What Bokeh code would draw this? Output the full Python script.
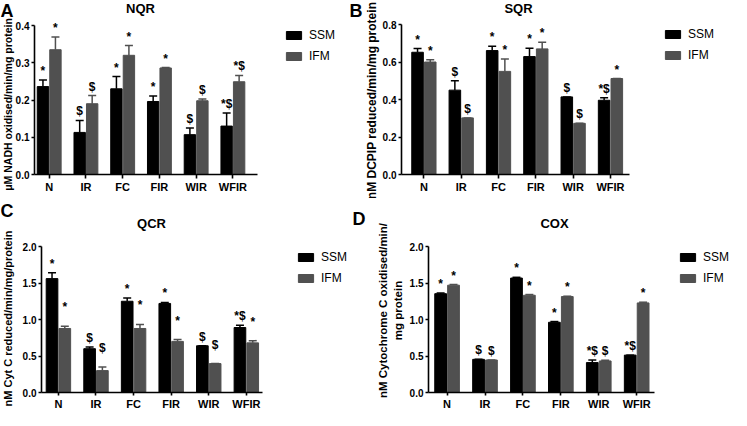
import math
from bokeh.plotting import figure
from bokeh.models import (ColumnDataSource, Range1d, FixedTicker, Legend, LegendItem,
                          Whisker, TeeHead, Label, NumeralTickFormatter)
from bokeh.transform import dodge
from bokeh.layouts import row, column
from bokeh.embed import file_html
from bokeh.resources import INLINE
from bokeh.core.properties import value

categories = ["N", "IR", "FC", "FIR", "WIR", "WFIR"]
series_names = ["SSM", "IFM"]

# Panel A - NQR
nqr_ssm = [0.236, 0.113, 0.230, 0.196, 0.107, 0.130]
nqr_ssm_err = [0.018, 0.032, 0.033, 0.015, 0.018, 0.035]
nqr_ifm = [0.335, 0.190, 0.320, 0.286, 0.198, 0.249]
nqr_ifm_err = [0.034, 0.022, 0.026, 0.001, 0.005, 0.017]
nqr_ssm_sig = ["*", "$", "*", "*", "$", "*$"]
nqr_ifm_sig = ["*", "$", "*", "*", "$", "*$"]
nqr_yticks = [0.0, 0.1, 0.2, 0.3, 0.4]

# Panel B - SQR
sqr_ssm = [0.652, 0.450, 0.661, 0.629, 0.414, 0.396]
sqr_ssm_err = [0.020, 0.050, 0.023, 0.044, 0.0, 0.014]
sqr_ifm = [0.600, 0.302, 0.550, 0.670, 0.273, 0.512]
sqr_ifm_err = [0.012, 0.0, 0.066, 0.035, 0.0, 0.0]
sqr_ssm_sig = ["*", "$", "*", "*", "$", "*$"]
sqr_ifm_sig = ["*", "$", "*", "*", "$", "*"]
sqr_yticks = [0.0, 0.2, 0.4, 0.6, 0.8]

# Panel C - QCR
qcr_ssm = [1.56, 0.60, 1.25, 1.22, 0.64, 0.89]
qcr_ssm_err = [0.08, 0.025, 0.045, 0.013, 0.0, 0.03]
qcr_ifm = [0.877, 0.30, 0.877, 0.70, 0.396, 0.68]
qcr_ifm_err = [0.03, 0.05, 0.055, 0.026, 0.0, 0.03]
qcr_ssm_sig = ["*", "$", "*", "*", "$", "*$"]
qcr_ifm_sig = ["*", "$", "*", "*", "$", "*"]
qcr_yticks = [0.0, 0.5, 1.0, 1.5, 2.0]

# Panel D - COX
cox_ssm = [1.354, 0.454, 1.568, 0.962, 0.41, 0.512]
cox_ssm_err = [0.01, 0.0, 0.01, 0.01, 0.035, 0.0]
cox_ifm = [1.47, 0.445, 1.332, 1.314, 0.432, 1.227]
cox_ifm_err = [0.008, 0.0, 0.01, 0.005, 0.01, 0.01]
cox_ssm_sig = ["*", "$", "*", "*", "*$", "*$"]
cox_ifm_sig = ["*", "$", "*", "*", "$", "*"]
cox_yticks = [0.0, 0.5, 1.0, 1.5, 2.0]

SSM_COLOR = "#000000"
IFM_COLOR = "#505050"
FONT = "Liberation Sans"


def make_panel(letter, title, ylabel, ylabel_size, ssm, ssm_err, ifm, ifm_err, ssm_sig, ifm_sig,
               yticks, xspan, W, H, axL, axR, yTop, yBot, title_cx, title_top,
               letter_xy, legend_xy, ylabel_xy, xtick_out=4, ifm_sig_offset=-2):
    # map the whole canvas to data space so every text sits inside the frame
    xs0, xs1 = xspan
    ymax = yticks[-1]
    xpx = (xs1 - xs0) / (axR - axL)
    ypx = ymax / (yBot - yTop)
    xr = Range1d(xs0 - axL * xpx, xs1 + (W - axR) * xpx)
    yr = Range1d(0 - (H - yBot) * ypx, ymax + yTop * ypx)

    idx = list(range(len(categories)))
    src = ColumnDataSource(dict(
        idx=idx, cat=categories,
        ssm=ssm, ssm_up=[v + e for v, e in zip(ssm, ssm_err)], ssm_sig=ssm_sig,
        ifm=ifm, ifm_up=[v + e for v, e in zip(ifm, ifm_err)], ifm_sig=ifm_sig,
    ))
    p = figure(width=W, height=H, output_backend="svg", toolbar_location=None,
               x_range=xr, y_range=yr,
               min_border=0, min_border_left=0, min_border_right=0,
               min_border_top=0, min_border_bottom=0)
    p.outline_line_color = None
    p.grid.visible = False
    p.background_fill_color = "white"
    p.border_fill_color = "white"
    p.title.visible = False

    off = 0.17
    bw = 0.31
    r1 = p.vbar(x=dodge("idx", -off), top="ssm", width=bw, bottom=0, source=src,
                fill_color=SSM_COLOR, line_color=SSM_COLOR)
    r2 = p.vbar(x=dodge("idx", off), top="ifm", width=bw, bottom=0, source=src,
                fill_color=IFM_COLOR, line_color=IFM_COLOR)

    for field, up, col, dx in (("ssm", "ssm_up", SSM_COLOR, -off), ("ifm", "ifm_up", IFM_COLOR, off)):
        w = Whisker(source=src, base=dodge("idx", dx), upper=up, lower=field,
                    dimension="height", line_color=col, line_width=1.5,
                    upper_head=TeeHead(size=8, line_color=col, line_width=1.5),
                    lower_head=None)
        p.add_layout(w)

    p.text(x=dodge("idx", -off), y="ssm_up", text="ssm_sig", source=src,
           text_align="center", text_baseline="bottom", y_offset=-2,
           text_font=value(FONT), text_font_style="bold", text_font_size="12px",
           text_color="black")
    p.text(x=dodge("idx", off), y="ifm_up", text="ifm_sig", source=src,
           text_align="center", text_baseline="bottom", y_offset=ifm_sig_offset,
           text_font=value(FONT), text_font_style="bold", text_font_size="12px",
           text_color="black")

    p.xaxis.ticker = FixedTicker(ticks=idx)
    p.xaxis.major_label_overrides = {i: c for i, c in zip(idx, categories)}
    p.xaxis.fixed_location = 0
    p.xaxis.bounds = (xs0, xs1)
    p.yaxis.ticker = FixedTicker(ticks=yticks)
    p.yaxis.formatter = NumeralTickFormatter(format="0.0")
    p.yaxis.fixed_location = xs0
    p.yaxis.bounds = (0, ymax)
    for ax in (p.xaxis, p.yaxis):
        ax.axis_line_width = 1.6
        ax.axis_line_color = "black"
        ax.major_tick_line_width = 1.6
        ax.major_tick_line_color = "black"
        ax.major_tick_in = 0
        ax.minor_tick_line_color = None
        ax.major_label_text_font = FONT
        ax.major_label_text_font_style = "bold"
        ax.major_label_text_color = "black"
        ax.major_label_standoff = 2
    p.xaxis.major_tick_out = xtick_out
    p.yaxis.major_tick_out = 3
    p.xaxis.major_label_text_font_size = "11px"
    p.yaxis.major_label_text_font_size = "10px"

    # y-axis title, centred on the axis line
    yx, yy = ylabel_xy
    p.add_layout(Label(x=yx, y=H - yy, x_units="screen", y_units="screen",
                       text=ylabel, angle=math.pi / 2, text_font=FONT,
                       text_font_style="bold", text_font_size=ylabel_size,
                       text_align="center", text_baseline="middle",
                       text_color="black"))

    lgx, lgy = legend_xy
    legend_h = 35
    legend = Legend(items=[LegendItem(label=series_names[0], renderers=[r1]),
                           LegendItem(label=series_names[1], renderers=[r2])],
                    location=(lgx, H - lgy - legend_h),
                    padding=0, margin=0, spacing=7,
                    glyph_width=19, glyph_height=10, label_height=14,
                    label_standoff=6, border_line_color=None,
                    background_fill_alpha=0,
                    label_text_font=FONT, label_text_font_size="12px",
                    label_text_color="black")
    p.add_layout(legend, "center")

    p.add_layout(Label(x=title_cx, y=H - title_top, x_units="screen", y_units="screen",
                       text=title, text_font=FONT, text_font_style="bold",
                       text_font_size="13px", text_baseline="top", text_align="center",
                       text_color="black"))
    lx, ly = letter_xy
    p.add_layout(Label(x=lx, y=H - ly, x_units="screen", y_units="screen",
                       text=letter, text_font=FONT, text_font_style="bold",
                       text_font_size="18px", text_baseline="top", text_align="left",
                       text_color="black"))
    return p


pA = make_panel("A", "NQR", "\u03bcM NADH oxidised/min/mg protein", "10.5px",
                nqr_ssm, nqr_ssm_err, nqr_ifm, nqr_ifm_err, nqr_ssm_sig, nqr_ifm_sig,
                nqr_yticks, (-0.40, 5.67), 347, 198, 34, 257, 25, 174, 140, 0,
                (0, 0), (284, 28), (7, 104))
pB = make_panel("B", "SQR", "nM DCPIP reduced/min/mg protein", "12px",
                sqr_ssm, sqr_ssm_err, sqr_ifm, sqr_ifm_err, sqr_ssm_sig, sqr_ifm_sig,
                sqr_yticks, (-0.60, 5.51), 384, 198, 54, 282, 24, 174, 171, 0,
                (2, 0), (316, 27), (24, 100))
pC = make_panel("C", "QCR", "nM Cyt C reduced/min/mg/protein", "11px",
                qcr_ssm, qcr_ssm_err, qcr_ifm, qcr_ifm_err, qcr_ssm_sig, qcr_ifm_sig,
                qcr_yticks, (-0.45, 5.43), 350, 212, 41, 262, 48, 194, 151, 17,
                (0, 2), (296, 52), (7, 120), xtick_out=3, ifm_sig_offset=-12)
pD = make_panel("D", "COX", "nM Cytochrome C oxidised/min/\nmg protein", "11.5px",
                cox_ssm, cox_ssm_err, cox_ifm, cox_ifm_err, cox_ssm_sig, cox_ifm_sig,
                cox_yticks, (-0.49, 5.47), 381, 212, 78, 304, 48, 194, 204, 17,
                (2, 10), (328, 52), (40, 112), xtick_out=3)

layout = column(row(pA, pB, spacing=0), row(pC, pD, spacing=0), spacing=0)
open("out.html", "w").write(file_html(layout, INLINE))
